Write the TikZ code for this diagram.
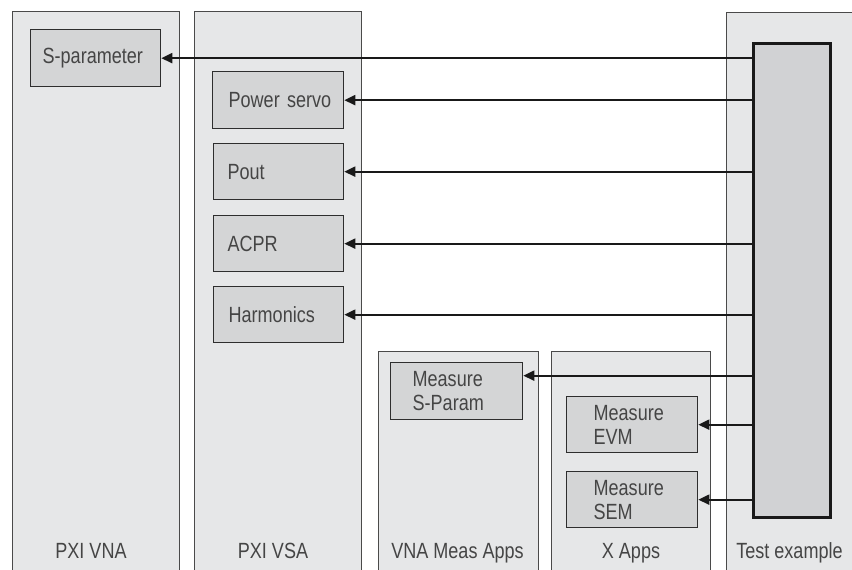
\documentclass[tikz,border=0pt]{standalone}
\usepackage{fontspec}
\setmainfont{Liberation Sans}[FakeStretch=0.82]
\usetikzlibrary{arrows.meta,positioning}

\definecolor{colfill}{HTML}{E6E7E8}
\definecolor{colline}{HTML}{4A4A4A}
\definecolor{boxfill}{HTML}{D4D5D6}
\definecolor{boxline}{HTML}{2E2E2E}
\definecolor{barfill}{HTML}{D1D2D4}
\definecolor{txt}{HTML}{454545}

\tikzset{
  col/.style={draw=colline, fill=colfill, line width=1.3pt, inner sep=0pt, anchor=north west},
  fn/.style={draw=boxline, fill=boxfill, line width=1.3pt, anchor=north west,
    minimum height=56pt, inner xsep=15pt, text width=100pt, align=left,
    text=txt, font=\fontsize{22}{24}\selectfont},
  tbar/.style={draw=black!90, fill=barfill, line width=2.5pt, inner sep=0pt, anchor=north west},
  lbl/.style={anchor=base, text=txt, font=\fontsize{22}{24}\selectfont, inner sep=0pt},
  link/.style={line width=2pt, draw=black!90, -{Triangle[length=11pt,width=10pt]}}
}

\begin{document}
\begin{tikzpicture}[x=1pt,y=-1pt]
\useasboundingbox (0,0) rectangle (852,570);

% instrument and application columns (open at the page edge)
\node[col, minimum width=167pt, minimum height=570pt] (vna)  at (12,11)  {};
\node[col, minimum width=167pt, minimum height=570pt] (vsa)  at (194,11) {};
\node[col, minimum width=160pt, minimum height=230pt] (meas) at (378,351) {};
\node[col, minimum width=159pt, minimum height=230pt] (xapp) at (551,351) {};
\node[col, minimum width=150pt, minimum height=570pt] (test) at (726,12) {};

% test sequence bar
\node[tbar, minimum width=77pt, minimum height=474pt] (bar) at (752,42) {};

% measurement blocks
\node[fn, inner xsep=12pt, text width=106pt, minimum height=57pt] (spar) at (30,29) {\mbox{S-parameter}};
\node[fn, inner xsep=16pt, text width=99pt, minimum height=57pt] (servo) at (212,71) {\mbox{Power servo}};
\node[fn, inner xsep=14pt, text width=102pt] (pout) at (213,143) {Pout};
\node[fn, inner xsep=14pt, text width=102pt] (acpr) at (213,215) {ACPR};
\node[fn, inner xsep=15pt, text width=100pt] (harm) at (213,286) {Harmonics};
\node[fn, inner xsep=22pt, text width=88pt, minimum height=57pt] (msp) at (390,362) {Measure\\S-Param};
\node[fn, inner xsep=27pt, text width=77pt] (evm) at (566,396) {Measure\\EVM};
\node[fn, inner xsep=27pt, text width=77pt] (sem) at (566,471) {Measure\\SEM};

% calls from the test sequence
\draw[link] (bar.west |- spar.east) -- (spar.east);
\draw[link] (bar.west |- servo.east) -- (servo.east);
\draw[link] (bar.west |- pout.east) -- (pout.east);
\draw[link] (bar.west |- acpr.east) -- (acpr.east);
\draw[link] (bar.west |- harm.east) -- (harm.east);
\coordinate (mspin) at ([yshift=15.5pt]msp.east);
\draw[link] (bar.west |- mspin) -- (mspin);
\draw[link] (bar.west |- evm.east) -- (evm.east);
\draw[link] (bar.west |- sem.east) -- (sem.east);

% column titles
\node[lbl] (tvna)  at (91,558)    {PXI VNA};
\node[lbl] (tvsa)  at (273,558)   {PXI VSA};
\node[lbl] (tmeas) at (457.5,558) {VNA Meas Apps};
\node[lbl] (txapp) at (631,558)   {X Apps};
\node[lbl] (ttest) at (789.5,558) {Test example};
\end{tikzpicture}
\end{document}
